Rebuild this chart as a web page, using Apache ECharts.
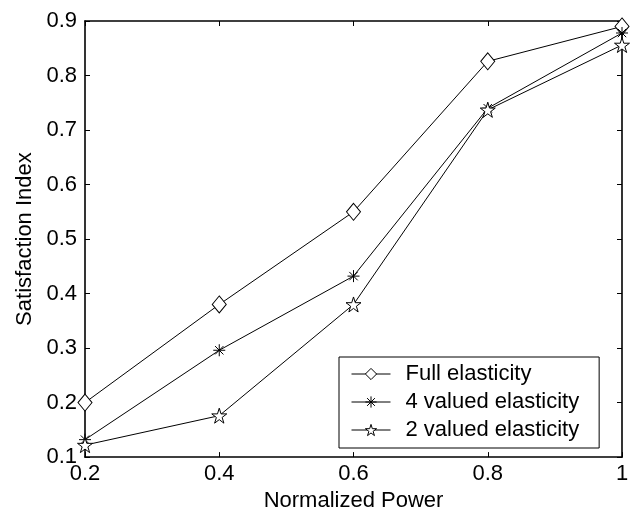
<!DOCTYPE html>
<html>
<head>
<meta charset="utf-8">
<script src="https://cdn.jsdelivr.net/npm/echarts@6/dist/echarts.min.js"></script>
<style>
html,body{margin:0;padding:0;background:#fff;}
#chart{width:632px;height:517px;}
</style>
</head>
<body>
<div id="chart"></div>
<script>
var xValues = [0.2, 0.4, 0.6, 0.8, 1.0];
var fullElasticity = [0.20, 0.38, 0.55, 0.826, 0.89];
var fourValued = [0.132, 0.296, 0.432, 0.74, 0.878];
var twoValued = [0.122, 0.176, 0.38, 0.737, 0.856];
var seriesNames = ['Full elasticity', '4 valued elasticity', '2 valued elasticity'];
var xTickLabels = ['0.2', '0.4', '0.6', '0.8', '1'];
var yTickLabels = ['0.1', '0.2', '0.3', '0.4', '0.5', '0.6', '0.7', '0.8', '0.9'];

var FONT = '"Liberation Sans", Arial, sans-serif';
var FS = 22;
var STAR = 'path://M50 0 L61.23 34.55 L97.55 34.55 L68.17 55.9 L79.39 90.45 L50 69.1 L20.61 90.45 L31.83 55.9 L2.45 34.55 L38.77 34.55 Z';
var ASTER = 'path://M50 0 L50 100 M0 50 L100 50 M15 15 L85 85 M15 85 L85 15';

function pairs(ys) { return xValues.map(function (x, i) { return [x, ys[i]]; }); }
function xLabel(v) { var i = xValues.findIndex(function (x) { return Math.abs(x - v) < 1e-6; }); return i >= 0 ? xTickLabels[i] : ''; }
function yLabel(v) { var i = Math.round((v - 0.1) / 0.1); return yTickLabels[i] || ''; }

var axisLine = { show: true, lineStyle: { color: '#000', width: 1.6 } };
var tick = { show: true, inside: true, length: 5, lineStyle: { color: '#000', width: 1 } };
var lab = { color: '#000', fontFamily: FONT, fontSize: FS };

function mkSeries(name, ys, symbol, size) {
  return {
    name: name, type: 'line', data: pairs(ys), symbol: symbol, symbolSize: size,
    showAllSymbol: true, animation: false,
    lineStyle: { color: '#000', width: 1 },
    itemStyle: { color: '#fff', borderColor: '#000', borderWidth: 1 },
    emphasis: { disabled: true }
  };
}

var chart = echarts.init(document.getElementById('chart'), null, { renderer: 'canvas' });
chart.setOption({
  animation: false,
  backgroundColor: '#fff',
  grid: { left: 85, right: 10, top: 21, bottom: 59, containLabel: false },
  xAxis: [
    { type: 'value', min: 0.2, max: 1, interval: 0.2, position: 'bottom',
      axisLine: axisLine, axisTick: tick, splitLine: { show: false },
      axisLabel: Object.assign({ margin: 6, formatter: xLabel }, lab),
      name: 'Normalized Power', nameLocation: 'middle', nameGap: 28,
      nameTextStyle: { color: '#000', fontFamily: FONT, fontSize: FS } },
    { type: 'value', min: 0.2, max: 1, interval: 0.2, position: 'top',
      axisLine: axisLine, axisTick: tick, axisLabel: { show: false }, splitLine: { show: false } }
  ],
  yAxis: [
    { type: 'value', min: 0.1, max: 0.9, interval: 0.1, position: 'left',
      axisLine: axisLine, axisTick: tick, splitLine: { show: false },
      axisLabel: Object.assign({ margin: 8, formatter: yLabel }, lab),
      name: 'Satisfaction Index', nameLocation: 'middle', nameGap: 46,
      nameTextStyle: { color: '#000', fontFamily: FONT, fontSize: FS } },
    { type: 'value', min: 0.1, max: 0.9, interval: 0.1, position: 'right',
      axisLine: axisLine, axisTick: tick, axisLabel: { show: false }, splitLine: { show: false } }
  ],
  legend: {
    orient: 'vertical', left: 339, top: 357,
    data: seriesNames,
    itemWidth: 39, itemHeight: 14, itemGap: 6,
    padding: [6, 20, 7, 12],
    borderColor: '#000', borderWidth: 1, backgroundColor: '#fff',
    lineStyle: { color: '#000', width: 1 },
    itemStyle: { color: '#fff', borderColor: '#000', borderWidth: 1 },
    textStyle: { color: '#000', fontFamily: FONT, fontSize: FS, lineHeight: 22, padding: [0, 0, 0, 10] },
    inactiveColor: '#000'
  },
  series: [
    mkSeries(seriesNames[0], fullElasticity, 'diamond', [14, 17]),
    mkSeries(seriesNames[1], fourValued, ASTER, 12),
    mkSeries(seriesNames[2], twoValued, STAR, 15)
  ]
});
</script>
</body>
</html>
